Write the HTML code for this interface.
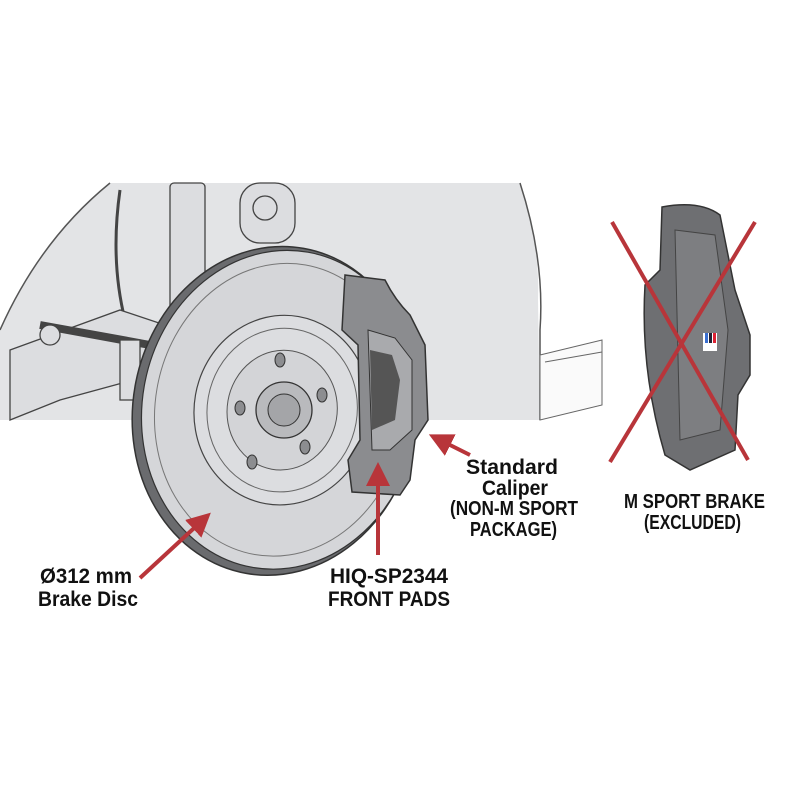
<!DOCTYPE html>
<html><head><meta charset="utf-8"><style>
html,body{margin:0;padding:0;background:#fff}
svg{display:block}
text{font-family:"Liberation Sans",sans-serif;font-weight:bold;fill:#111}
</style></head><body>
<svg width="800" height="800" viewBox="0 0 800 800" xmlns="http://www.w3.org/2000/svg">
<defs>
<marker id="ah" markerWidth="6" markerHeight="6" refX="4" refY="3" orient="auto" markerUnits="strokeWidth">
<path d="M0,0 L6,3 L0,6 z" fill="#b8353a"/></marker>
</defs>
<!-- fender background -->
<path d="M0,420 L0,330 Q40,240 110,183 L520,183 Q540,240 538,300 L540,420 Z" fill="#e3e4e6"/>
<path d="M110,183 Q40,240 0,330" fill="none" stroke="#555" stroke-width="1.5"/>
<path d="M520,183 Q545,260 540,330 L540,420" fill="none" stroke="#555" stroke-width="1.5"/>
<!-- body panel -->
<path d="M540,355 L602,340 L602,405 L540,420 Z" fill="#fafafa" stroke="#666" stroke-width="1"/>
<line x1="545" y1="362" x2="602" y2="352" stroke="#666"/>
<!-- suspension -->
<g fill="#dcdde0" stroke="#444" stroke-width="1.3">
<rect x="170" y="183" width="35" height="160" rx="4"/>
<rect x="240" y="183" width="55" height="60" rx="20"/>
<circle cx="265" cy="208" r="12"/>
<path d="M120,190 Q110,260 125,320 L140,330" fill="none" stroke-width="3"/>
<path d="M10,350 L120,310 L180,330 L170,370 L60,400 L10,420 Z"/>
<path d="M40,325 L150,345" fill="none" stroke-width="8"/>
<circle cx="50" cy="335" r="10"/>
<rect x="120" y="340" width="20" height="60"/>
</g>
<!-- disc -->
<g transform="rotate(10 270 410)">
<ellipse cx="275" cy="410" rx="142" ry="165" fill="#6a6b6e" stroke="#333" stroke-width="1.5"/>
<ellipse cx="280" cy="408" rx="138" ry="160" fill="#d5d6d9" stroke="#333" stroke-width="1.2"/>
<ellipse cx="280" cy="408" rx="125" ry="147" fill="none" stroke="#777" stroke-width="1"/>
<ellipse cx="282" cy="408" rx="88" ry="95" fill="#dcdde0" stroke="#444" stroke-width="1.2"/>
<ellipse cx="282" cy="408" rx="75" ry="82" fill="none" stroke="#666"/>
<ellipse cx="282" cy="408" rx="55" ry="60" fill="#d3d4d7" stroke="#555"/>
</g>
<circle cx="284" cy="410" r="28" fill="#b9babd" stroke="#333" stroke-width="1.3"/>
<circle cx="284" cy="410" r="16" fill="#a4a5a8" stroke="#333"/>
<g fill="#8c8d90" stroke="#333"><ellipse cx="280" cy="360" rx="5" ry="7"/><ellipse cx="322" cy="395" rx="5" ry="7"/><ellipse cx="305" cy="447" rx="5" ry="7"/><ellipse cx="252" cy="462" rx="5" ry="7"/><ellipse cx="240" cy="408" rx="5" ry="7"/></g>
<!-- caliper -->
<path d="M345,275 L385,280 Q395,300 410,315 L425,345 L428,420 L415,440 L410,480 L400,495 L352,492 L348,460 L360,440 L358,345 L342,330 Z" fill="#8b8c8f" stroke="#333" stroke-width="1.5"/>
<path d="M368,330 L395,338 L412,360 L412,430 L390,450 L372,450 Z" fill="#a9aaad" stroke="#333"/>
<path d="M370,350 L392,355 L400,380 L395,420 L372,430 Z" fill="#555"/>
<!-- M caliper -->
<path d="M662,207 Q700,200 720,215 L735,290 L750,335 L750,375 L738,395 L735,450 L690,470 L665,455 Q640,370 645,285 L660,270 Z" fill="#6e6f72" stroke="#333" stroke-width="1.5"/>
<path d="M675,230 L715,235 L728,330 L720,430 L680,440 Z" fill="#7d7e81" stroke="#444"/>
<rect x="703" y="333" width="14" height="18" fill="#fff"/>
<rect x="705" y="333" width="3" height="10" fill="#3a6fd0"/><rect x="709" y="333" width="3" height="10" fill="#223"/><rect x="713" y="333" width="3" height="10" fill="#d23"/>
<!-- X -->
<line x1="612" y1="222" x2="748" y2="460" stroke="#b8353a" stroke-width="4"/>
<line x1="755" y1="222" x2="610" y2="462" stroke="#b8353a" stroke-width="4"/>
<!-- arrows -->
<g stroke="#b8353a" stroke-width="4" fill="none">
<line x1="140" y1="578" x2="205" y2="518" marker-end="url(#ah)"/>
<line x1="378" y1="555" x2="378" y2="470" marker-end="url(#ah)"/>
<line x1="470" y1="455" x2="436" y2="438" marker-end="url(#ah)"/>
</g>
<!-- labels -->
<g font-size="21" lengthAdjust="spacingAndGlyphs">
<text x="466" y="474" textLength="92" lengthAdjust="spacingAndGlyphs">Standard</text>
<text x="482" y="495" textLength="66" lengthAdjust="spacingAndGlyphs">Caliper</text>
<text x="450" y="515" textLength="128" lengthAdjust="spacingAndGlyphs" font-size="20">(NON-M SPORT</text>
<text x="470" y="536" textLength="87" lengthAdjust="spacingAndGlyphs" font-size="20">PACKAGE)</text>
<text x="624" y="508" textLength="141" lengthAdjust="spacingAndGlyphs" font-size="20">M SPORT BRAKE</text>
<text x="644" y="529" textLength="97" lengthAdjust="spacingAndGlyphs" font-size="20">(EXCLUDED)</text>
<text x="40" y="583" textLength="92" lengthAdjust="spacingAndGlyphs">Ø312 mm</text>
<text x="38" y="606" textLength="100" lengthAdjust="spacingAndGlyphs">Brake Disc</text>
<text x="330" y="583" textLength="118" lengthAdjust="spacingAndGlyphs">HIQ-SP2344</text>
<text x="328" y="606" textLength="122" lengthAdjust="spacingAndGlyphs">FRONT PADS</text>
</g>
</svg>
</body></html>
